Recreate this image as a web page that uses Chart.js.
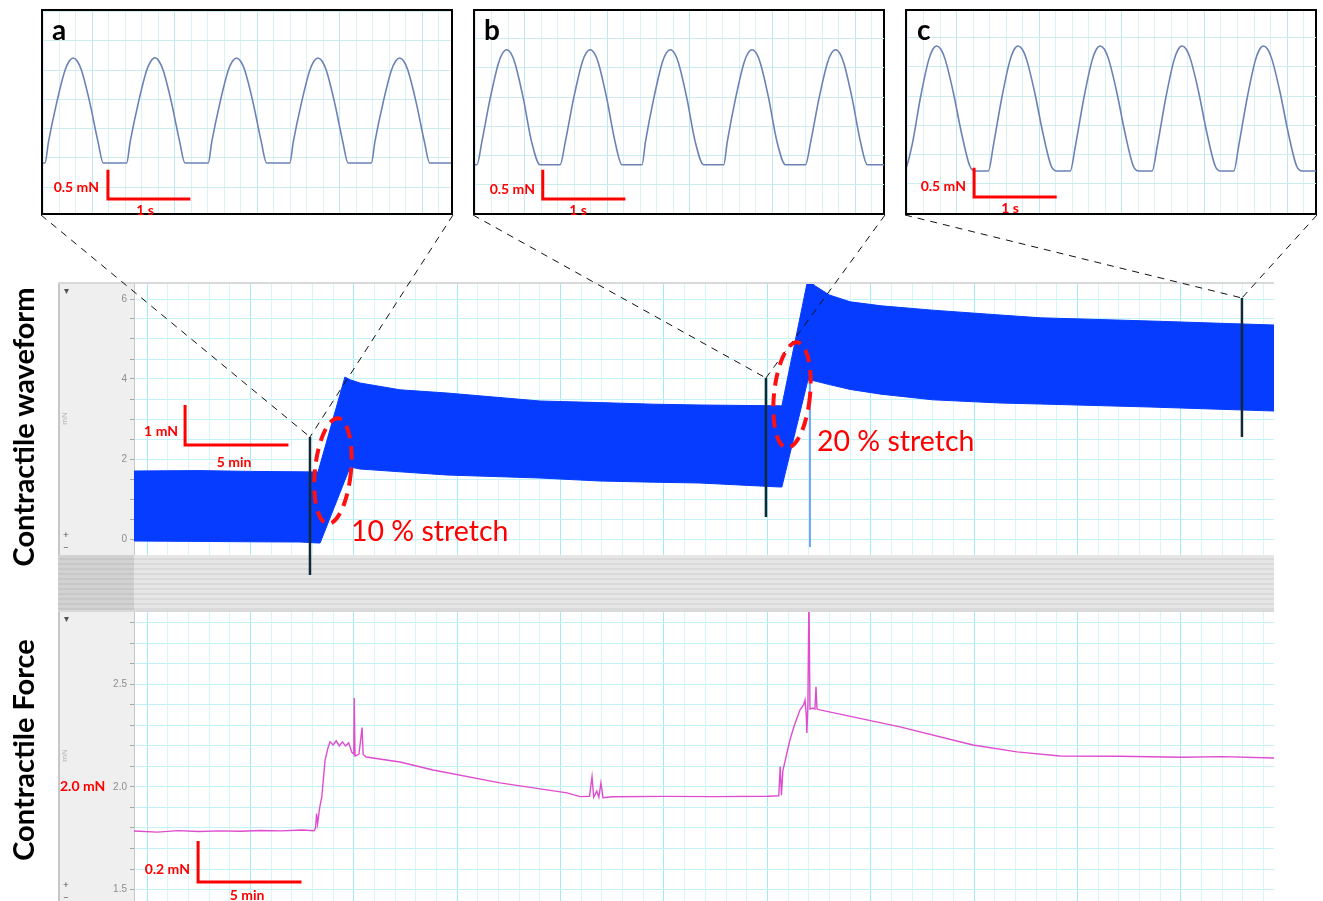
<!DOCTYPE html>
<html>
<head>
<meta charset="utf-8">
<script src="https://cdn.jsdelivr.net/npm/chart.js@4.4.1/dist/chart.umd.min.js"></script>
<style>
  html, body { margin: 0; padding: 0; background: #fff; }
  body { width: 1323px; height: 901px; position: relative; overflow: hidden; font-family: Lato, 'Open Sans', sans-serif; }
  canvas { display: block; }
  .inset { position: absolute; top: 9px; width: 408px; height: 202px; border: 2px solid #000; background: #fff; }
  .panel { position: absolute; left: 58px; }
  .strip { position: absolute; left: 58px; top: 555px; width: 1216px; height: 55px;
           background: repeating-linear-gradient(to bottom, #e6e6e6 0px, #e6e6e6 3px, #dadada 3px, #dadada 5px); }
  .strip-left { position: absolute; left: 58px; top: 555px; width: 76px; height: 55px;
           background: repeating-linear-gradient(to bottom, #d2d2d2 0px, #d2d2d2 3px, #c8c8c8 3px, #c8c8c8 5px); }
  #overlay { position: absolute; left: 0; top: 0; pointer-events: none; z-index: 5; }
  .t { position: absolute; white-space: nowrap; z-index: 6; }
  .letter { font-weight: bold; font-size: 28px; color: #000; transform: translate(0, -50%); }
  .red { color: #f00; font-weight: bold; font-size: 14px; }
  .r { transform: translate(-100%, -50%); }
  .c { transform: translate(-50%, -50%); }
  .l { transform: translate(0, -50%); }
  .stretch { color: #f00; font-size: 28.5px; transform: translate(0, -50%); }
  .side { font-weight: bold; font-size: 29px; color: #000; transform: translate(-50%, -50%) rotate(-90deg); }
  .ctl { color: #555; font-size: 10px; transform: translate(-50%, -50%); }
</style>
</head>
<body>

<div class="inset" id="insetA" style="left:41px"><canvas id="cA" width="408" height="202"></canvas></div>
<div class="inset" id="insetB" style="left:473px"><canvas id="cB" width="409" height="202"></canvas></div>
<div class="inset" id="insetC" style="left:905px"><canvas id="cC" width="409" height="202"></canvas></div>

<div class="panel" style="top:282px"><canvas id="cTop" width="1216" height="273"></canvas></div>
<div class="strip"></div>
<div class="strip-left"></div>
<div class="panel" style="top:610px"><canvas id="cLow" width="1216" height="291"></canvas></div>

<canvas id="overlay" width="1323" height="901"></canvas>

<div class="t letter" style="left:52px; top:29px">a</div>
<div class="t letter" style="left:484px; top:29px">b</div>
<div class="t letter" style="left:917px; top:29px">c</div>

<div class="t red r" style="left:99px; top:186px">0.5 mN</div>
<div class="t red c" style="left:145px; top:209px">1 s</div>
<div class="t red r" style="left:535px; top:188px">0.5 mN</div>
<div class="t red c" style="left:578px; top:209px">1 s</div>
<div class="t red r" style="left:966px; top:185px">0.5 mN</div>
<div class="t red c" style="left:1010px; top:207px">1 s</div>

<div class="t red r" style="left:178px; top:430px">1 mN</div>
<div class="t red c" style="left:234px; top:461px">5 min</div>
<div class="t red r" style="left:190px; top:868px">0.2 mN</div>
<div class="t red c" style="left:247px; top:894px">5 min</div>
<div class="t red l" style="left:60px; top:785px">2.0 mN</div>

<div class="t stretch" style="left:351px; top:530px">10 % stretch</div>
<div class="t stretch" style="left:817px; top:440px">20 % stretch</div>

<div class="t side" style="left:22px; top:427px">Contractile waveform</div>
<div class="t side" style="left:22px; top:750px">Contractile Force</div>

<div class="t ctl" style="left:66px; top:290px">▾</div>
<div class="t ctl" style="left:66px; top:534px">+</div>
<div class="t ctl" style="left:66px; top:547px">−</div>
<div class="t ctl" style="left:66px; top:618px">▾</div>
<div class="t ctl" style="left:66px; top:884px">+</div>
<div class="t ctl" style="left:66px; top:897px">−</div>

<script>
// ---- inset traces (time in s from the inset's left edge, force in mN) ----
const waveATime = [-0.1,
  0.024, 0.067, 0.167, 0.267, 0.317, 0.367, 0.417, 0.467, 0.567, 0.667, 0.731,
  1.015, 1.058, 1.158, 1.258, 1.308, 1.358, 1.408, 1.458, 1.558, 1.658, 1.722,
  2.005, 2.048, 2.148, 2.248, 2.298, 2.348, 2.398, 2.448, 2.548, 2.648, 2.712,
  2.994, 3.037, 3.137, 3.237, 3.287, 3.337, 3.387, 3.437, 3.537, 3.637, 3.701,
  3.984, 4.027, 4.127, 4.227, 4.277, 4.327, 4.377, 4.427, 4.527, 4.627, 4.691, 5.0];
const waveAVal = [-0.085,
  -0.085, 0.279, 0.95, 1.496, 1.652, 1.706, 1.652, 1.496, 0.95, 0.279, -0.085,
  -0.085, 0.279, 0.95, 1.496, 1.652, 1.71, 1.652, 1.496, 0.95, 0.279, -0.085,
  -0.085, 0.279, 0.95, 1.496, 1.652, 1.706, 1.652, 1.496, 0.95, 0.279, -0.085,
  -0.085, 0.279, 0.95, 1.496, 1.652, 1.706, 1.652, 1.496, 0.95, 0.279, -0.085,
  -0.085, 0.279, 0.95, 1.496, 1.652, 1.706, 1.652, 1.496, 0.95, 0.279, -0.085, -0.085];

const waveBTime = [-0.1,
  0.024, 0.084, 0.184, 0.284, 0.334, 0.384, 0.434, 0.484, 0.584, 0.684, 0.788,
  1.030, 1.094, 1.194, 1.294, 1.344, 1.394, 1.444, 1.494, 1.594, 1.694, 1.778,
  2.021, 2.064, 2.164, 2.264, 2.314, 2.364, 2.414, 2.464, 2.564, 2.664, 2.767,
  3.010, 3.054, 3.154, 3.254, 3.304, 3.354, 3.404, 3.454, 3.554, 3.654, 3.758,
  4.0, 4.064, 4.164, 4.264, 4.314, 4.364, 4.414, 4.464, 4.564, 4.664, 4.748, 5.0];
const waveBVal = [-0.154,
  -0.154, 0.244, 0.981, 1.579, 1.75, 1.809, 1.75, 1.579, 0.981, 0.244, -0.154,
  -0.154, 0.244, 0.981, 1.579, 1.75, 1.809, 1.75, 1.579, 0.981, 0.244, -0.154,
  -0.154, 0.244, 0.981, 1.579, 1.75, 1.809, 1.75, 1.579, 0.981, 0.244, -0.154,
  -0.154, 0.244, 0.981, 1.579, 1.75, 1.809, 1.75, 1.579, 0.981, 0.244, -0.154,
  -0.154, 0.244, 0.981, 1.579, 1.75, 1.809, 1.75, 1.579, 0.981, 0.244, -0.154, -0.154];

const waveCTime = [-0.15,
  -0.04, 0.06, 0.16, 0.26, 0.31, 0.36, 0.41, 0.46, 0.56, 0.66, 0.76, 0.824,
  0.985, 1.045, 1.145, 1.245, 1.295, 1.345, 1.395, 1.445, 1.545, 1.645, 1.745, 1.815,
  1.976, 2.039, 2.139, 2.239, 2.289, 2.339, 2.389, 2.439, 2.539, 2.639, 2.739, 2.804,
  2.966, 3.03, 3.13, 3.23, 3.28, 3.33, 3.38, 3.43, 3.53, 3.63, 3.73, 3.794,
  3.955, 4.015, 4.115, 4.215, 4.265, 4.315, 4.365, 4.415, 4.515, 4.615, 4.715, 4.785, 5.0];
const waveCVal = [-0.278,
  -0.278, 0.155, 0.955, 1.605, 1.791, 1.855, 1.80, 1.635, 1.066, 0.366, -0.193, -0.278,
  -0.278, 0.155, 0.955, 1.605, 1.791, 1.855, 1.80, 1.635, 1.066, 0.366, -0.193, -0.278,
  -0.278, 0.155, 0.955, 1.605, 1.791, 1.855, 1.80, 1.635, 1.066, 0.366, -0.193, -0.278,
  -0.278, 0.155, 0.955, 1.605, 1.791, 1.855, 1.80, 1.635, 1.066, 0.366, -0.193, -0.278,
  -0.278, 0.155, 0.955, 1.605, 1.791, 1.855, 1.80, 1.635, 1.066, 0.366, -0.193, -0.278, -0.278];

// ---- contractile waveform envelope (time in min, mN) ----
const bandTime  = [-0.63, 2.5, 5.0, 7.4, 8.27, 8.37, 9.57, 9.82, 10.3, 12.23, 14.5, 19.0, 21.9, 24.5, 26.74, 30.6, 30.7, 31.96, 32.3, 33.0, 34.0, 35.5, 38.0, 41.25, 43.2, 48.5, 54.5];
const bandUpper = [1.70, 1.71, 1.69, 1.68, 1.675, 1.86, 4.05, 3.98, 3.90, 3.73, 3.65, 3.45, 3.41, 3.37, 3.35, 3.33, 3.325, 6.5, 6.33, 6.10, 5.93, 5.83, 5.72, 5.60, 5.53, 5.45, 5.35];
const bandLower = [-0.05, -0.06, -0.07, -0.075, -0.10, -0.10, 1.47, 1.80, 1.75, 1.68, 1.60, 1.525, 1.45, 1.42, 1.40, 1.30, 1.30, 3.975, 3.95, 3.86, 3.74, 3.62, 3.48, 3.40, 3.375, 3.30, 3.20];
const spikeTime = [32.06, 32.06];
const spikeVal  = [3.9, -0.2];

// ---- contractile force (time in min, mN) ----
const forceTime = [-0.63, 0.5, 1.5, 2.5, 3.5, 4.5, 5.5, 6.5, 7.5, 8.08, 8.15, 8.2, 8.25, 8.35, 8.45, 8.61, 8.75, 8.85, 9.0, 9.15, 9.3, 9.45, 9.6, 9.75, 9.9, 10.0, 10.02, 10.06, 10.25, 10.4, 10.45, 10.6,
  12.23, 13.83, 17.07, 20.31, 20.94, 21.4, 21.52, 21.6, 21.75, 21.85, 21.95, 22.05, 22.5, 25.0, 27.5, 30.0, 30.55, 30.62, 30.68, 30.75, 31.09, 31.3, 31.58, 31.75, 31.82, 31.88, 31.91, 31.96, 32.01, 32.06,
  32.2, 32.3, 32.35, 32.4, 32.54, 36.41, 39.94, 42.07, 44.15, 47.0, 50.0, 52.0, 54.5];
const forceVal = [1.785, 1.78, 1.787, 1.783, 1.786, 1.784, 1.788, 1.786, 1.79, 1.787, 1.80, 1.87, 1.82, 1.90, 1.95, 2.13, 2.19, 2.22, 2.205, 2.225, 2.20, 2.22, 2.20, 2.215, 2.17, 2.16, 2.434, 2.15, 2.16, 2.29, 2.16, 2.146,
  2.122, 2.083, 2.02, 1.971, 1.953, 1.955, 2.05, 1.95, 1.98, 1.95, 2.02, 1.948, 1.952, 1.954, 1.953, 1.955, 1.957, 2.10, 1.96, 2.08, 2.229, 2.30, 2.376, 2.40, 2.424, 2.35, 2.263, 2.40, 2.95, 2.38,
  2.385, 2.38, 2.488, 2.38, 2.376, 2.293, 2.205, 2.171, 2.151, 2.15, 2.145, 2.148, 2.141];

// ---- stretch markers on the waveform panel ----
const markerTime   = [7.88, 29.93, 52.95];
const markerTop    = [2.55, 4.025, 6.025];
const markerBottom = [-0.9, 0.55, 2.55];

const BLUE = '#053cff';
const PINK = '#e04ccf';
const V_MINOR = '#d6f7fa', V_MAJOR = '#a2edf4', H_LINE = '#c4f3f7';

function steps(from, to, step) {
  const out = [];
  for (let i = 0; from + i * step <= to + 1e-9; i++) out.push({ value: +(from + i * step).toFixed(4) });
  return out;
}
function pts(xs, ys) { return xs.map((x, i) => ({ x: x, y: ys[i] })); }

// no label padding around the plot areas
function noPadY(s, w) { s.width = w; s.paddingTop = 0; s.paddingBottom = 0; }
function noPadX(s) { s.height = 0; s.paddingLeft = 0; s.paddingRight = 0; }

const panelBg = {
  id: 'panelBg',
  beforeDraw(chart) {
    const { ctx, chartArea: a } = chart;
    ctx.save();
    ctx.fillStyle = '#efefef';
    ctx.fillRect(0, 0, a.left, chart.height);
    ctx.fillStyle = '#c6c6c6';
    ctx.fillRect(0, 0, 2, chart.height);
    ctx.fillStyle = '#fff';
    ctx.fillRect(a.left, a.top, a.right - a.left, a.bottom - a.top);
    ctx.restore();
  },
  afterDraw(chart) {
    const { ctx, chartArea: a } = chart;
    ctx.save();
    ctx.fillStyle = '#d9d9d9';
    ctx.fillRect(0, 0, a.right, 2);
    ctx.restore();
  }
};

function minuteAxis() {
  return {
    type: 'linear', min: -0.63, max: 54.5,
    ticks: { display: false },
    border: { display: false },
    grid: { drawTicks: false, color: c => (c.tick && Math.round(c.tick.value) % 5 === 0) ? V_MAJOR : V_MINOR },
    afterBuildTicks: s => { s.ticks = steps(0, 54, 1); },
    afterFit: noPadX
  };
}

function forceAxis(min, max, from, to, step, label) {
  return {
    type: 'linear', position: 'left', min: min, max: max,
    afterBuildTicks: s => { s.ticks = steps(from, to, step); },
    afterFit: s => noPadY(s, 76),
    ticks: { color: '#8e8e8e', font: { size: 10 }, padding: 3, callback: label },
    grid: { color: H_LINE, tickColor: '#a8a8a8', tickLength: 4 },
    border: { display: true, color: '#c8c8c8' },
    title: { display: true, text: 'mN', color: '#b3b3b3', font: { size: 8 }, padding: 2 }
  };
}

const baseOpts = {
  responsive: false, animation: false, devicePixelRatio: 1,
  layout: { padding: 0, autoPadding: false },
  plugins: { legend: { display: false }, tooltip: { enabled: false } },
  elements: { point: { radius: 0 } }
};

const topChart = new Chart(document.getElementById('cTop'), {
  type: 'line',
  data: {
    datasets: [
      { data: pts(bandTime, bandUpper), borderColor: BLUE, backgroundColor: BLUE, borderWidth: 1, fill: '+1', tension: 0 },
      { data: pts(bandTime, bandLower), borderColor: BLUE, borderWidth: 1, fill: false, tension: 0 },
      { data: pts(spikeTime, spikeVal), borderColor: '#4d86ff', borderWidth: 1.5, fill: false }
    ]
  },
  options: Object.assign({}, baseOpts, {
    scales: {
      x: minuteAxis(),
      y: forceAxis(-0.4, 6.425, 0, 6, 0.5, v => (Math.abs(v % 2) < 1e-6 ? String(v) : ''))
    }
  }),
  plugins: [panelBg]
});

const lowChart = new Chart(document.getElementById('cLow'), {
  type: 'line',
  data: {
    datasets: [
      { data: pts(forceTime, forceVal), borderColor: PINK, borderWidth: 1.4, fill: false, tension: 0 }
    ]
  },
  options: Object.assign({}, baseOpts, {
    scales: {
      x: minuteAxis(),
      y: forceAxis(1.444, 2.863, 1.5, 2.8, 0.1, v => (Math.round(v * 10) % 5 === 0 ? v.toFixed(1) : ''))
    }
  }),
  plugins: [panelBg]
});

function insetChart(id, xs, ys, yMin, yMax) {
  const isMajor = v => { const r = (((v - 0.6) % 1) + 1) % 1; return r < 0.01 || r > 0.99; };
  return new Chart(document.getElementById(id), {
    type: 'line',
    data: { datasets: [{ data: pts(xs, ys), borderColor: '#6c82b6', borderWidth: 1.6, fill: false, cubicInterpolationMode: 'monotone' }] },
    options: Object.assign({}, baseOpts, {
      scales: {
        x: {
          type: 'linear', min: 0, max: 4.95,
          ticks: { display: false }, border: { display: false },
          grid: { drawTicks: false, color: c => (c.tick && isMajor(c.tick.value)) ? '#bfe7ec' : '#dcf1f3' },
          afterBuildTicks: s => { s.ticks = steps(0, 4.9, 0.2); },
          afterFit: noPadX
        },
        y: {
          type: 'linear', min: yMin, max: yMax,
          ticks: { display: false }, border: { display: false },
          grid: { drawTicks: false, color: '#cdecef' },
          afterBuildTicks: s => { s.ticks = steps(Math.ceil(yMin * 2) / 2, yMax, 0.5); },
          afterFit: s => noPadY(s, 0)
        }
      }
    })
  });
}

const insetA = insetChart('cA', waveATime, waveAVal, -0.939, 2.509);
const insetB = insetChart('cB', waveBTime, waveBVal, -0.978, 2.469);
const insetC = insetChart('cC', waveCTime, waveCVal, -0.995, 2.452);

// ---- overlay: connectors, markers, stretch ellipses, scale bars ----
function at(chart, x, y) {
  const r = chart.canvas.getBoundingClientRect();
  return [r.left + chart.scales.x.getPixelForValue(x), r.top + chart.scales.y.getPixelForValue(y)];
}

function drawOverlay() {
  const ctx = document.getElementById('overlay').getContext('2d');

  ctx.strokeStyle = '#111';
  ctx.lineWidth = 1;
  ctx.setLineDash([7, 6]);
  ['insetA', 'insetB', 'insetC'].forEach((id, i) => {
    const box = document.getElementById(id).getBoundingClientRect();
    const p = at(topChart, markerTime[i], markerTop[i]);
    ctx.beginPath();
    ctx.moveTo(box.left, box.bottom); ctx.lineTo(p[0], p[1]);
    ctx.moveTo(box.right, box.bottom); ctx.lineTo(p[0], p[1]);
    ctx.stroke();
  });

  ctx.setLineDash([]);
  ctx.strokeStyle = '#0f2a33';
  ctx.lineWidth = 2.5;
  markerTime.forEach((t, i) => {
    const a = at(topChart, t, markerTop[i]);
    const b = at(topChart, t, markerBottom[i]);
    ctx.beginPath(); ctx.moveTo(a[0], a[1]); ctx.lineTo(b[0], b[1]); ctx.stroke();
  });

  // dashed ellipses around the stretch steps
  ctx.strokeStyle = '#ff1010';
  ctx.lineWidth = 4;
  ctx.setLineDash([13, 8]);
  [[8.99, 1.7], [31.19, 3.6]].forEach(e => {
    const c = at(topChart, e[0], e[1]);
    ctx.beginPath();
    ctx.ellipse(c[0], c[1], 18, 53, 0.1, 0, Math.PI * 2);
    ctx.stroke();
  });

  // scale bars: corner at (x0, y0), vertical length dy, horizontal length dx
  ctx.setLineDash([]);
  ctx.strokeStyle = '#ff0000';
  ctx.lineWidth = 3;
  ctx.lineJoin = 'miter';
  function scaleBar(chart, x0, y0, dy, dx) {
    const a = at(chart, x0, y0 + dy), b = at(chart, x0, y0), c = at(chart, x0 + dx, y0);
    ctx.beginPath(); ctx.moveTo(a[0], a[1]); ctx.lineTo(b[0], b[1]); ctx.lineTo(c[0], c[1]); ctx.stroke();
  }
  scaleBar(topChart, 1.84, 2.35, 1, 5);
  scaleBar(lowChart, 2.47, 1.537, 0.2, 5);
  scaleBar(insetA, 0.788, -0.70, 0.5, 1);
  scaleBar(insetB, 0.82, -0.739, 0.5, 1);
  scaleBar(insetC, 0.812, -0.722, 0.5, 1);
}

drawOverlay();
</script>
</body>
</html>
